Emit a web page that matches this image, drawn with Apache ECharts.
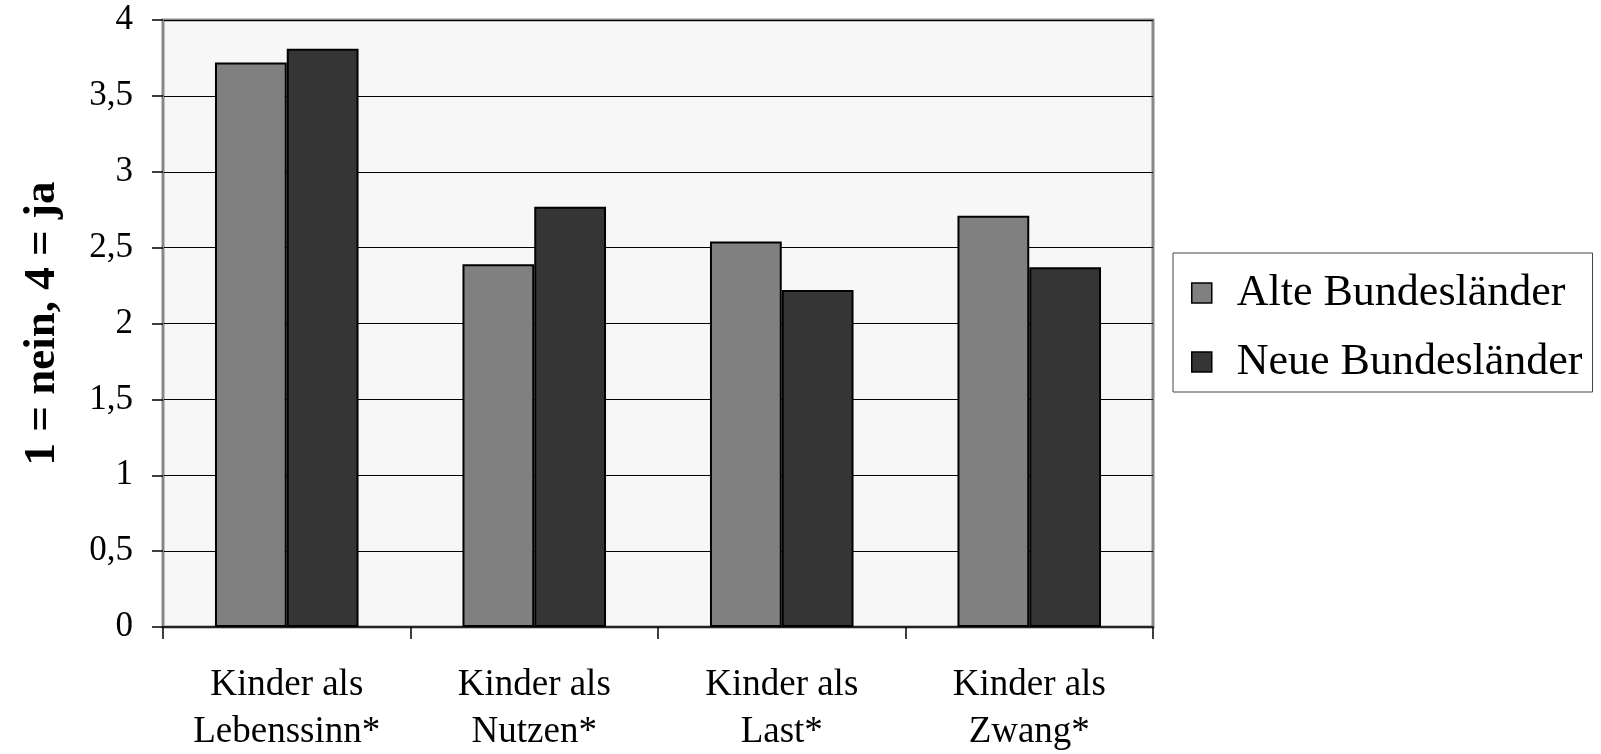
<!DOCTYPE html>
<html>
<head>
<meta charset="utf-8">
<script src="https://cdn.jsdelivr.net/npm/echarts@6/dist/echarts.min.js"></script>
<style>
html,body{margin:0;padding:0;background:#fff;}
#chart{width:1601px;height:754px;}
</style>
</head>
<body>
<div id="chart"></div>
<script>
var categories = ['Kinder als\nLebenssinn*', 'Kinder als\nNutzen*', 'Kinder als\nLast*', 'Kinder als\nZwang*'];
var seriesNames = ['Alte Bundesländer', 'Neue Bundesländer'];
var alteValues = [3.72, 2.39, 2.54, 2.71];
var neueValues = [3.81, 2.77, 2.22, 2.37];
var yTicks = [0, 0.5, 1, 1.5, 2, 2.5, 3, 3.5, 4];
var yAxisTitle = '1 = nein, 4 = ja';

var FONT = '"Liberation Serif", "Times New Roman", serif';
var chart = echarts.init(document.getElementById('chart'), null, {renderer: 'canvas'});
chart.setOption({
  animation: false,
  backgroundColor: '#ffffff',
  textStyle: {fontFamily: FONT, color: '#000'},
  grid: {
    left: 163, top: 20, right: 448, bottom: 127,
    outerBoundsMode: 'none', containLabel: false,
    show: true, backgroundColor: '#f7f7f7', borderColor: '#888888', borderWidth: 3
  },
  legend: {
    orient: 'vertical',
    left: 1173, top: 253,
    padding: [18, 10, 8, 18],
    itemGap: 25,
    itemWidth: 20, itemHeight: 20,
    borderColor: '#444', borderWidth: 1,
    backgroundColor: '#fff',
    icon: 'rect',
    itemStyle: {borderColor: '#000', borderWidth: 1.5},
    textStyle: {fontFamily: FONT, fontSize: 44, color: '#000', lineHeight: 44, padding: [0, 0, 0, 20]},
    data: seriesNames
  },
  xAxis: {
    type: 'category',
    data: categories,
    boundaryGap: true,
    axisLine: {lineStyle: {color: '#222', width: 2}},
    axisTick: {show: true, length: 12, lineStyle: {color: '#000', width: 1.5}},
    axisLabel: {fontFamily: FONT, fontSize: 37, color: '#000', lineHeight: 47, margin: 35, interval: 0}
  },
  yAxis: {
    type: 'value',
    min: 0, max: 4, interval: 0.5,
    name: yAxisTitle,
    nameLocation: 'middle',
    nameGap: 98,
    nameTextStyle: {fontFamily: FONT, fontSize: 45, fontWeight: 'bold', color: '#000'},
    axisLine: {show: true, lineStyle: {color: '#888', width: 2}},
    axisTick: {show: true, length: 11, lineStyle: {color: '#000', width: 1.5}},
    axisLabel: {
      fontFamily: FONT, fontSize: 35, color: '#000', margin: 30,
      formatter: function (v) { return String(v).replace('.', ','); }
    },
    splitLine: {show: true, lineStyle: {color: '#000', width: 1}}
  },
  series: [
    {
      name: seriesNames[0], type: 'bar', data: alteValues,
      barGap: '0%', barCategoryGap: '42%',
      itemStyle: {color: '#808080', borderColor: '#000', borderWidth: 2}
    },
    {
      name: seriesNames[1], type: 'bar', data: neueValues,
      barGap: '0%', barCategoryGap: '42%',
      itemStyle: {color: '#353535', borderColor: '#000', borderWidth: 2}
    }
  ]
});
</script>
</body>
</html>
